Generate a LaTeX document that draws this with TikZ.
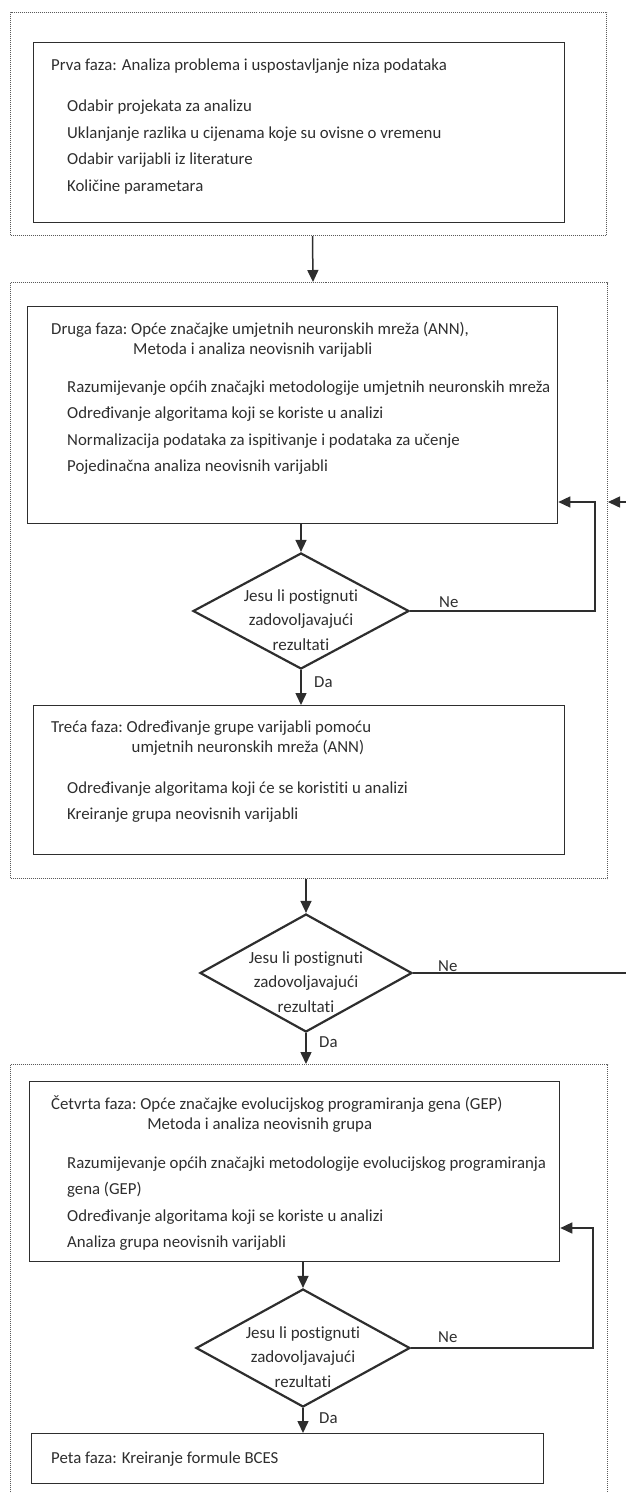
\documentclass[tikz,border=0pt]{standalone}
\usepackage{fontspec}
\setmainfont{Carlito}[Ligatures=NoCommon]
\usetikzlibrary{arrows.meta,shapes.geometric}
\definecolor{inkgray}{HTML}{2E2E2E}
\definecolor{dotgray}{HTML}{5A5A5A}

\begin{document}
\begin{tikzpicture}[
					x=1pt, y=-1pt,
					stage/.style={rectangle, draw=dotgray, line width=1pt, densely dotted, anchor=north west, inner sep=0pt},
					phase/.style={rectangle, draw=inkgray, line width=1.3pt, anchor=north west, inner sep=0pt},
					decision/.style={diamond, draw=inkgray, line width=2.2pt, inner sep=0pt},
					txt/.style={anchor=base west, inner sep=0pt, text=inkgray, font=\fontsize{16.8}{26.5}\selectfont},
					head/.style={txt, font=\fontsize{16.8}{20.5}\selectfont},
					ask/.style={inner sep=0pt, text=inkgray, align=center, font=\fontsize{17}{24.5}\selectfont},
					flow/.style={draw=inkgray, line width=1.5pt, -{Triangle[length=12pt,width=11pt]}}
				]
				\useasboundingbox (0,0) rectangle (626,1493);
				\clip (0,0) rectangle (626,1493);
				% stages and phase boxes
				\node[stage, minimum width=596pt, minimum height=223pt] (firststage) at (10,12) {};
				\node[stage, minimum width=597pt, minimum height=596pt] (secondstage) at (10,282) {};
				\node[stage, minimum width=597pt, minimum height=460pt] (thirdstage) at (10,1064) {};
				\node[phase, minimum width=531pt, minimum height=180pt] (firstbox) at (33,42) {};
				\node[phase, minimum width=530pt, minimum height=217pt] (secondbox) at (27,306) {};
				\node[phase, minimum width=531pt, minimum height=149pt] (thirdbox) at (33,705) {};
				\node[phase, minimum width=530pt, minimum height=180pt] (fourthbox) at (29,1081) {};
				\node[phase, minimum width=512pt, minimum height=50pt] (fifthbox) at (31,1433) {};
				\node[decision, minimum width=216pt, minimum height=116pt] (firstcheck) at (301,611) {};
				\node[decision, minimum width=212pt, minimum height=118pt] (secondcheck) at (306,973) {};
				\node[decision, minimum width=214pt, minimum height=118pt] (thirdcheck) at (303,1348) {};
				% texts
				\node[head] (firsthead) at (51,71) {Prva faza: Analiza problema i uspostavljanje niza podataka};
				\node[txt] (firstlist) at (67,112) {\begin{tabular}[t]{@{}l@{}}Odabir projekata za analizu\\ Uklanjanje razlika u cijenama koje su ovisne o vremenu\\ Odabir varijabli iz literature\\ Količine parametara\end{tabular}};
				\node[head] (secondhead) at (51,334) {\begin{tabular}[t]{@{}l@{\ }l@{}}Druga faza: & Opće značajke umjetnih neuronskih mreža (ANN),\\ & \hspace{2pt}Metoda i analiza neovisnih varijabli\end{tabular}};
				\node[txt] (secondlist) at (67,392) {\begin{tabular}[t]{@{}l@{}}Razumijevanje općih značajki metodologije umjetnih neuronskih mreža\\ Određivanje algoritama koji se koriste u analizi\\ Normalizacija podataka za ispitivanje i podataka za učenje\\ Pojedinačna analiza neovisnih varijabli\end{tabular}};
				\node[head] (thirdhead) at (51,732) {\begin{tabular}[t]{@{}l@{\ }l@{}}Treća faza: & Određivanje grupe varijabli pomoću\\ & \hspace{5pt}umjetnih neuronskih mreža (ANN)\end{tabular}};
				\node[txt] (thirdlist) at (67,793) {\begin{tabular}[t]{@{}l@{}}Određivanje algoritama koji će se koristiti u analizi\\ Kreiranje grupa neovisnih varijabli\end{tabular}};
				\node[head] (fourthhead) at (51,1109) {\begin{tabular}[t]{@{}l@{\ }l@{}}Četvrta faza: & Opće značajke evolucijskog programiranja gena (GEP)\\ & \hspace{7pt}Metoda i analiza neovisnih grupa\end{tabular}};
				\node[txt] (fourthlist) at (67,1168) {\begin{tabular}[t]{@{}l@{}}Razumijevanje općih značajki metodologije evolucijskog programiranja\\ gena (GEP)\\ Određivanje algoritama koji se koriste u analizi\\ Analiza grupa neovisnih varijabli\end{tabular}};
				\node[head] (fifthhead) at (51,1463) {Peta faza: Kreiranje formule BCES};
				\node[ask] (firstasktext) at ([yshift=-9pt]firstcheck.center) {Jesu li postignuti\\ zadovoljavajući\\ rezultati};
				\node[ask] (secondasktext) at ([yshift=-9pt]secondcheck.center) {Jesu li postignuti\\ zadovoljavajući\\ rezultati};
				\node[ask] (thirdasktext) at ([yshift=-9pt]thirdcheck.center) {Jesu li postignuti\\ zadovoljavajući\\ rezultati};
				\node[txt] (firstno) at (439,607) {Ne};
				\node[txt] (firstyes) at (314,687) {Da};
				\node[txt] (secondno) at (438,971) {Ne};
				\node[txt] (secondyes) at (319,1047) {Da};
				\node[txt] (thirdno) at (438,1342) {Ne};
				\node[txt] (thirdyes) at (319,1423) {Da};
				% loop corners
				\coordinate (firstloop) at (595,502);
				\coordinate (outerloop) at (645,502);
				\coordinate (thirdloop) at (593,1228);
				% connectors
				\draw[flow] ([xshift=4pt]firststage.south) -- ([xshift=4pt]secondstage.north);
				\draw[flow] (secondbox.south -| firstcheck.north) -- (firstcheck.north);
				\draw[flow] (firstcheck.south) -- (firstcheck.south |- thirdbox.north);
				\draw[flow] (firstcheck.east) -| (firstloop) -- (firstloop -| secondbox.east);
				\draw[flow] (secondstage.south -| secondcheck.north) -- (secondcheck.north);
				\draw[flow] (secondcheck.south) -- (secondcheck.south |- thirdstage.north);
				\draw[flow] (secondcheck.east) -| (outerloop) -- (outerloop -| secondstage.east);
				\draw[flow] (fourthbox.south -| thirdcheck.north) -- (thirdcheck.north);
				\draw[flow] (thirdcheck.south) -- (thirdcheck.south |- fifthbox.north);
				\draw[flow] (thirdcheck.east) -| (thirdloop) -- (thirdloop -| fourthbox.east);
				\end{tikzpicture}
\end{document}
